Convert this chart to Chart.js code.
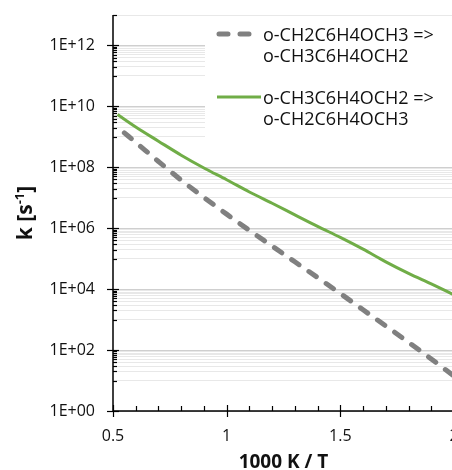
<!DOCTYPE html>
<html>
<head>
<meta charset="utf-8">
<script src="https://cdn.jsdelivr.net/npm/chart.js@4.4.0/dist/chart.umd.min.js"></script>
<style>
  html, body { margin: 0; padding: 0; background: #fff; overflow: hidden; }
  #wrap { width: 480px; height: 470px; }
</style>
</head>
<body>
<div id="wrap"><canvas id="chart" width="480" height="470"></canvas></div>
<script>
// Werte (x = 1000 K / T, k in s^-1)
const xGray = [0.55, 0.6, 0.7, 0.8, 0.9, 1.0, 1.1, 1.2, 1.3, 1.4, 1.5, 1.6, 1.7, 1.8, 1.9, 2.0];
const kGray = [1.35e9, 6.6e8, 1.55e8, 3.8e7, 1.02e7, 2.9e6, 8.5e5, 2.6e5, 7.9e4, 2.4e4, 7.2e3, 2.1e3, 620, 180, 51, 14];

const xGreen = [0.52, 0.6, 0.7, 0.8, 0.9, 1.0, 1.1, 1.2, 1.3, 1.4, 1.5, 1.6, 1.7, 1.8, 1.9, 2.0];
const kGreen = [5.4e9, 2.1e9, 7.2e8, 2.5e8, 9.5e7, 3.9e7, 1.55e7, 6.6e6, 2.75e6, 1.15e6, 5.0e5, 2.05e5, 7.9e4, 3.3e4, 1.48e4, 6.5e3];

const seriesNames = [
    ['o-CH2C6H4OCH3 =>', 'o-CH3C6H4OCH2'],
    ['o-CH3C6H4OCH2 =>', 'o-CH2C6H4OCH3']
];
const xTickValues = [0.5, 1, 1.5, 2];
const yMin = 1, yMax = 1e13;

const FONT = "'Open Sans', 'Liberation Sans', sans-serif";
const GRAY = '#808080';
const GREEN = '#70AD47';
const TEXT = '#111';

function toPoints(xs, ys) {
    return xs.map((x, i) => ({ x: x, y: ys[i] }));
}

function fmtExp(v) {
    const e = Math.round(Math.log10(v));
    return '1E+' + String(e).padStart(2, '0');
}

// Zusatz: Achsen, Tickmarks, Titel, Legende
const decor = {
    id: 'decor',
    beforeDatasetsDraw(chart) {
        const ctx = chart.ctx, a = chart.chartArea;
        ctx.save();
        ctx.fillStyle = '#fff';
        ctx.fillRect(205, a.top + 2, a.right - 205, 134);
        ctx.restore();
    },
    afterDraw(chart) {
        const { ctx, chartArea: a, scales: { x, y } } = chart;
        ctx.save();
        ctx.strokeStyle = '#000';
        ctx.lineWidth = 1.5;

        // Achsenlinien
        ctx.beginPath();
        ctx.moveTo(a.left, a.top);
        ctx.lineTo(a.left, a.bottom);
        ctx.lineTo(a.right, a.bottom);
        ctx.stroke();

        // y Tickmarks
        ctx.lineWidth = 1.2;
        y.ticks.forEach(t => {
            const py = Math.round(y.getPixelForValue(t.value)) + 0.5;
            ctx.beginPath();
            if (t.major) { ctx.moveTo(a.left - 6, py); ctx.lineTo(a.left + 6, py); }
            else { ctx.moveTo(a.left, py); ctx.lineTo(a.left + 4, py); }
            ctx.stroke();
        });

        // x Tickmarks (0.1 Schritte)
        for (let i = 0; i <= 15; i++) {
            const px = Math.round(x.getPixelForValue(0.5 + i * 0.1)) + 0.5;
            ctx.beginPath();
            if (i % 5 === 0) { ctx.moveTo(px, a.bottom - 6); ctx.lineTo(px, a.bottom + 6); }
            else { ctx.moveTo(px, a.bottom - 5); ctx.lineTo(px, a.bottom); }
            ctx.stroke();
        }

        // Achsentitel
        ctx.fillStyle = TEXT;
        ctx.font = "bold 19px " + FONT;
        ctx.textAlign = 'center';
        ctx.textBaseline = 'alphabetic';
        ctx.fillText('1000 K / T', (a.left + a.right) / 2, 468);

        ctx.save();
        ctx.translate(31.5, (a.top + a.bottom) / 2);
        ctx.rotate(-Math.PI / 2);
        ctx.textAlign = 'left';
        const big = "bold 21px " + FONT, small = "bold 13px " + FONT;
        ctx.font = big;
        const w1 = ctx.measureText('k [s').width, w3 = ctx.measureText(']').width;
        ctx.font = small;
        const w2 = ctx.measureText('-1').width;
        let sx = -(w1 + w2 + w3) / 2;
        ctx.font = big; ctx.fillText('k [s', sx, 0); sx += w1;
        ctx.font = small; ctx.fillText('-1', sx, -8); sx += w2;
        ctx.font = big; ctx.fillText(']', sx, 0);
        ctx.restore();

        // Legende
        ctx.font = "18px " + FONT;
        ctx.textAlign = 'left';
        ctx.fillStyle = TEXT;
        ctx.save();
        ctx.strokeStyle = GRAY;
        ctx.lineWidth = 5;
        ctx.lineCap = 'round';
        ctx.setLineDash([9, 12]);
        ctx.beginPath(); ctx.moveTo(219, 34); ctx.lineTo(258.5, 34); ctx.stroke();
        ctx.restore();
        ctx.fillText(seriesNames[0][0], 263, 40.5);
        ctx.fillText(seriesNames[0][1], 263, 61.5);

        ctx.strokeStyle = GREEN;
        ctx.lineWidth = 3;
        ctx.beginPath(); ctx.moveTo(217, 97); ctx.lineTo(261, 97); ctx.stroke();
        ctx.fillText(seriesNames[1][0], 263, 103.5);
        ctx.fillText(seriesNames[1][1], 263, 124.5);

        ctx.restore();
    }
};

new Chart(document.getElementById('chart'), {
    type: 'line',
    data: {
        datasets: [
            {
                label: seriesNames[0].join(' '),
                data: toPoints(xGray, kGray),
                borderColor: GRAY,
                borderWidth: 5,
                borderDash: [9, 12],
                borderCapStyle: 'round',
                pointRadius: 0,
                cubicInterpolationMode: 'monotone'
            },
            {
                label: seriesNames[1].join(' '),
                data: toPoints(xGreen, kGreen),
                borderColor: GREEN,
                borderWidth: 3,
                pointRadius: 0,
                cubicInterpolationMode: 'monotone'
            }
        ]
    },
    options: {
        responsive: false,
        animation: false,
        devicePixelRatio: 1,
        layout: { padding: { left: 0, right: 26, top: 15, bottom: 0 } },
        plugins: {
            legend: { display: false },
            tooltip: { enabled: false }
        },
        scales: {
            x: {
                type: 'linear',
                min: 0.5,
                max: 2,
                afterBuildTicks: (scale) => { scale.ticks = xTickValues.map(v => ({ value: v })); },
                afterFit: (scale) => {
                    scale.height = 59;
                    scale.paddingLeft = 0; scale.paddingRight = 0;
                },
                ticks: {
                    padding: 16,
                    color: TEXT,
                    font: { family: FONT, size: 16 },
                    maxRotation: 0,
                    autoSkip: false,
                    callback: (v) => String(v)
                },
                grid: { display: false, drawTicks: false },
                border: { display: false }
            },
            y: {
                type: 'logarithmic',
                min: yMin,
                max: yMax,
                afterBuildTicks: (scale) => {
                    const t = [];
                    for (let e = 0; e <= 13; e++) {
                        if (e % 2 === 0) {
                            t.push({ value: Math.pow(10, e), major: true });
                        } else {
                            for (let k = 1; k <= 9; k++) {
                                const v = k * Math.pow(10, e);
                                if (v <= yMax) t.push({ value: v, major: false });
                            }
                        }
                    }
                    t.sort((p, q) => p.value - q.value);
                    scale.ticks = t;
                },
                afterFit: (scale) => {
                    scale.width = 113;
                    scale.paddingTop = 0; scale.paddingBottom = 0;
                },
                ticks: {
                    padding: 18,
                    color: TEXT,
                    font: { family: FONT, size: 16 },
                    autoSkip: false,
                    callback: (v, i, ticks) => (ticks[i] && ticks[i].major) ? fmtExp(v) : ''
                },
                grid: {
                    drawTicks: false,
                    lineWidth: 1,
                    color: (c) => (c.tick && c.tick.major) ? '#cfcfcf' : '#e8e8e8'
                },
                border: { display: false }
            }
        }
    },
    plugins: [decor]
});
</script>
</body>
</html>
